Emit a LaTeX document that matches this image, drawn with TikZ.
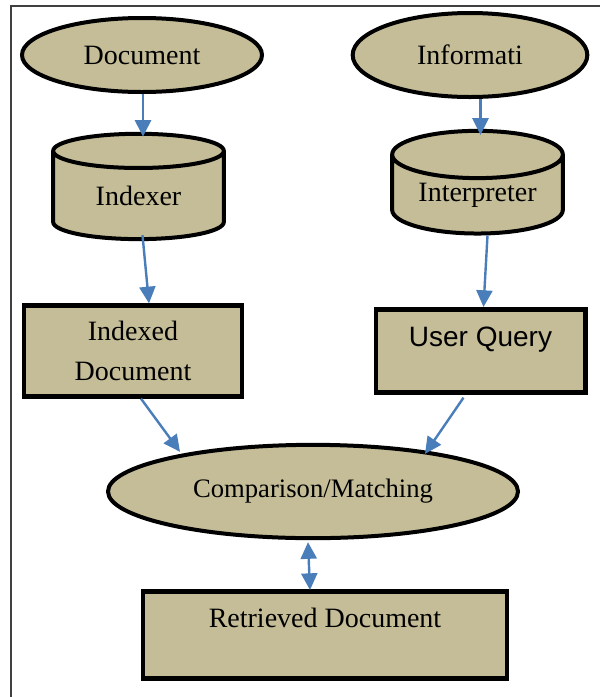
\documentclass[tikz,border=0pt]{standalone}
\usepackage{fontspec}
\setmainfont{Liberation Serif}
\newfontfamily\arialfont{Liberation Sans}
\usepackage{tikz}
\usetikzlibrary{arrows.meta,positioning,calc,shapes.geometric}
\definecolor{tanfill}{RGB}{196,189,151}
\definecolor{flowblue}{RGB}{74,126,187}
\tikzset{
  oval/.style={ellipse, draw=black, line width=3pt, fill=tanfill, inner sep=0pt,
    font=\fontsize{21}{25}\selectfont},
  store/.style={cylinder, shape border rotate=90, aspect=0.4, draw=black,
    line width=3pt, fill=tanfill, inner sep=0pt, font=\fontsize{21}{25}\selectfont},
  box/.style={rectangle, draw=black, line width=3.5pt, fill=tanfill, align=center,
    inner sep=0pt, font=\fontsize{21}{30}\selectfont},
  flow/.style={-{Triangle[length=12.5pt, width=12pt]}, line width=1.8pt, flowblue},
  bflow/.style={{Triangle[length=12.5pt, width=12pt]}-{Triangle[length=12.5pt, width=12pt]},
    line width=1.8pt, flowblue}
}

\begin{document}
\begin{tikzpicture}[x=0.75pt, y=-0.75pt]
  \useasboundingbox (0,0) rectangle (600,697);
  % outer frame, runs off the page at right and bottom
  \draw[black!75, line width=1.2pt] (11,6) rectangle (640,740);

  \node[oval, minimum width=180pt, minimum height=55.5pt] (doc) at (142,55) {Document};
  \node[oval, minimum width=176pt, minimum height=63pt] (info) at (470,55) {Informati};

  \node[store, minimum width=128pt, minimum height=79pt] (idx) at (138.5,196) {Indexer};
  \node[store, minimum width=128pt, minimum height=77pt] (itp) at (477.5,195) {Interpreter};

  \node[box, minimum width=163.5pt, minimum height=68pt] (ixd) at (133,351) {Indexed\\Document};
  \node[box, minimum width=157pt, text height=28pt, text depth=34.25pt, anchor=north,
    font=\arialfont\fontsize{21}{25}\selectfont] (uq) at (480.5,307) {User Query};

  \node[oval, minimum width=307.5pt, minimum height=70pt,
    font=\fontsize{20}{24}\selectfont] (cmp) at (313,491.5) {Comparison/Matching};

  \node[box, minimum width=273pt, text height=27pt, text depth=38.25pt, anchor=north]
    (ret) at (325,589) {Retrieved Document};

  \draw[flow] ($(doc.south)+(1,0)$) -- ($(doc.south |- idx.north)+(1,5)$);
  \draw[flow] ($(itp.north |- info.south)+(3,0)$) -- ($(itp.north)+(3,6)$);
  \draw[flow] ($(idx.south)+(4,-6)$) -- ($(ixd.north)+(16,0)$);
  \draw[flow] ($(itp.south)+(10,0)$) -- ($(uq.north)+(3,0)$);
  \draw[flow] ($(ixd.south)+(8,0)$) -- ($(cmp.north)+(-133,9)$);
  \draw[flow] ($(uq.south)+(-17,3)$) -- ($(cmp.north)+(112,11)$);
  \draw[bflow] ($(cmp.south)+(-5,2)$) -- ($(ret.north)+(-15,1)$);
\end{tikzpicture}
\end{document}
